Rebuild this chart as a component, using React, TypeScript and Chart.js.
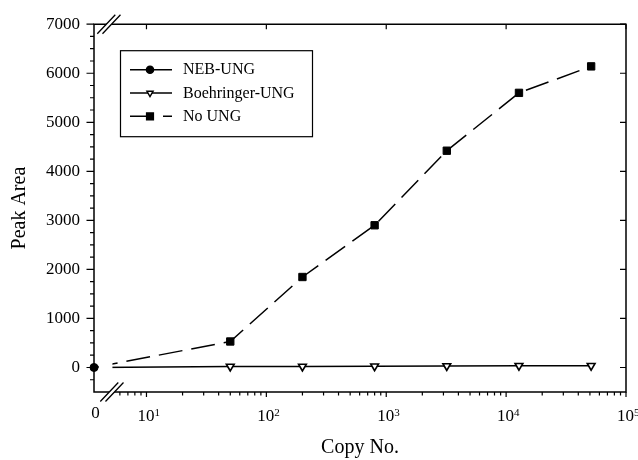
import React, { useEffect, useRef } from "react";
import { Chart, registerables } from "chart.js";
import { drawPoint } from "chart.js/helpers";

Chart.register(...registerables);

// ---- data ----
const COPY_NUMBERS = [0, 50, 200, 800, 3200, 12800, 51200];
const NEB_UNG = [0];
const BOEHRINGER_UNG = [0, 20, 20, 25, 30, 35, 35];
const NO_UNG = [0, 530, 1845, 2900, 4420, 5600, 6140];
const SERIES_LABELS = ["NEB-UNG", "Boehringer-UNG", "No UNG"];
const Y_TICKS = [0, 1000, 2000, 3000, 4000, 5000, 6000, 7000];
const X_DECADES = [1, 2, 3, 4, 5];
const X_TICK_BASE = "10";
const ZERO_LABEL = "0";
const X_TITLE = "Copy No.";
const Y_TITLE = "Peak Area";

// ---- axis definition (broken log axis: "0" sits at the axis minimum) ----
const X_MIN = 3.65;
const X_MAX = 100000;
const Y_MIN = -500;
const Y_MAX = 7000;
const Y_MINOR_STEP = 250;
const BREAK_AT = 5;
const BLANK_FROM = 4.0;
const BLANK_TO = 5.2;

const FONT = "'Liberation Serif', 'Times New Roman', serif";

const toX = (c: number) => (c === 0 ? X_MIN : c);
const pts = (vals: number[]) => vals.map((v, i) => ({ x: toX(COPY_NUMBERS[i]), y: v }));

const framePlugin = {
  id: "frame",
  afterDatasetsDraw(chart: any) {
    const { ctx, chartArea: a, scales } = chart;
    const xs = scales.x;
    const x0 = xs.getPixelForValue(BLANK_FROM);
    const x1 = xs.getPixelForValue(BLANK_TO);
    ctx.save();
    ctx.fillStyle = "#fff";
    ctx.fillRect(x0, a.top + 2, x1 - x0, a.bottom - a.top - 4);
    ctx.restore();
  },
  afterDraw(chart: any) {
    const { ctx, chartArea: a, scales } = chart;
    const xs = scales.x;
    const ys = scales.y;
    ctx.save();
    ctx.strokeStyle = "#000";
    ctx.fillStyle = "#000";
    ctx.lineCap = "butt";

    // frame
    ctx.lineWidth = 1.5;
    ctx.beginPath();
    ctx.moveTo(a.left, a.top);
    ctx.lineTo(a.right, a.top);
    ctx.lineTo(a.right, a.bottom);
    ctx.lineTo(a.left, a.bottom);
    ctx.closePath();
    ctx.stroke();

    // y ticks
    ctx.lineWidth = 1.2;
    ctx.beginPath();
    for (let v = Y_MIN + Y_MINOR_STEP; v <= Y_MAX; v += Y_MINOR_STEP) {
      const py = ys.getPixelForValue(v);
      const major = v % 1000 === 0;
      ctx.moveTo(a.left - (major ? 7.5 : 4), py);
      ctx.lineTo(a.left, py);
      if (major) {
        ctx.moveTo(a.right, py);
        ctx.lineTo(a.right - 6, py);
      }
    }
    // x ticks
    for (let d = 0; d <= 4; d++) {
      for (let k = 1; k <= 9; k++) {
        const v = k * Math.pow(10, d);
        if (v <= BLANK_TO || v > X_MAX) continue;
        const px = xs.getPixelForValue(v);
        const major = k === 1;
        ctx.moveTo(px, a.bottom);
        ctx.lineTo(px, a.bottom + (major ? 5 : 3.5));
      }
    }
    X_DECADES.forEach((e) => {
      const px = xs.getPixelForValue(Math.pow(10, e));
      ctx.moveTo(px, a.bottom);
      ctx.lineTo(px, a.bottom + 5);
      ctx.moveTo(px, a.top);
      ctx.lineTo(px, a.top + 5);
    });
    ctx.stroke();

    // axis breaks
    const bx = xs.getPixelForValue(BREAK_AT);
    const drawBreak = (cx: number, cy: number) => {
      const h = 9.5, w = 9, g = 2.6;
      ctx.fillStyle = "#fff";
      ctx.beginPath();
      ctx.moveTo(cx - g - w, cy + h);
      ctx.lineTo(cx - g + w, cy - h);
      ctx.lineTo(cx + g + w, cy - h);
      ctx.lineTo(cx + g - w, cy + h);
      ctx.closePath();
      ctx.fill();
      ctx.lineWidth = 1.3;
      ctx.beginPath();
      ctx.moveTo(cx - g - w, cy + h);
      ctx.lineTo(cx - g + w, cy - h);
      ctx.moveTo(cx + g - w, cy + h);
      ctx.lineTo(cx + g + w, cy - h);
      ctx.stroke();
      ctx.fillStyle = "#000";
    };
    drawBreak(bx - 1.5, a.top);
    drawBreak(bx + 1.5, a.bottom);

    // x tick labels
    ctx.fillStyle = "#000";
    ctx.textBaseline = "alphabetic";
    ctx.font = `17px ${FONT}`;
    ctx.textAlign = "center";
    ctx.fillText(ZERO_LABEL, xs.getPixelForValue(X_MIN) + 1.5, a.bottom + 26);
    X_DECADES.forEach((e) => {
      const px = xs.getPixelForValue(Math.pow(10, e));
      ctx.font = `17px ${FONT}`;
      ctx.textAlign = "left";
      const wb = ctx.measureText(X_TICK_BASE).width;
      ctx.fillText(X_TICK_BASE, px - wb / 2 - 0.5, a.bottom + 29);
      ctx.font = `11px ${FONT}`;
      ctx.fillText(String(e), px + wb / 2 - 0.5, a.bottom + 23.5);
    });

    // legend
    const lx = a.left + 26, ly = a.top + 26, lw = 192, lh = 86;
    ctx.lineWidth = 1.2;
    ctx.strokeStyle = "#000";
    ctx.strokeRect(lx + 0.5, ly + 0.5, lw, lh);
    const legendRadius = [3.6, 3.6, 4.8];
    chart.data.datasets.forEach((ds: any, i: number) => {
      const y = ly + 19.5 + i * 23.3;
      ctx.lineWidth = 1.5;
      ctx.strokeStyle = "#000";
      ctx.setLineDash(ds.borderDash || []);
      ctx.beginPath();
      ctx.moveTo(lx + 10, y);
      ctx.lineTo(lx + 52, y);
      ctx.stroke();
      ctx.setLineDash([]);
      ctx.fillStyle = ds.pointBackgroundColor;
      ctx.strokeStyle = "#000";
      ctx.lineWidth = 1.4;
      drawPoint(ctx, { pointStyle: ds.pointStyle, rotation: ds.pointRotation || 0, radius: legendRadius[i], borderWidth: 1.4 }, lx + 30, y);
      ctx.fillStyle = "#000";
      ctx.font = `16px ${FONT}`;
      ctx.textAlign = "left";
      ctx.textBaseline = "middle";
      ctx.fillText(ds.label, lx + 63, y + 0.5);
    });
    ctx.restore();
  },
};

export default function App() {
  const ref = useRef<HTMLCanvasElement>(null);
  useEffect(() => {
    const hideZero = (r: number) => (c: any) => (c.dataIndex === 0 ? 0 : r);
    const chart = new Chart(ref.current as HTMLCanvasElement, {
      type: "line",
      data: {
        datasets: [
          {
            label: SERIES_LABELS[0],
            data: pts(NEB_UNG),
            borderColor: "#000",
            borderWidth: 1.5,
            pointStyle: "circle",
            pointRadius: 4,
            pointBackgroundColor: "#000",
            pointBorderColor: "#000",
            pointBorderWidth: 1,
            clip: false,
          } as any,
          {
            label: SERIES_LABELS[1],
            data: pts(BOEHRINGER_UNG),
            borderColor: "#000",
            borderWidth: 1.5,
            pointStyle: "triangle",
            pointRotation: 180,
            pointRadius: hideZero(4.5),
            pointBackgroundColor: "#fff",
            pointBorderColor: "#000",
            pointBorderWidth: 1.6,
            clip: false,
          } as any,
          {
            label: SERIES_LABELS[2],
            data: pts(NO_UNG),
            borderColor: "#000",
            borderWidth: 1.5,
            borderDash: [24, 9],
            pointStyle: "rect",
            pointRadius: hideZero(5.2),
            pointBackgroundColor: "#000",
            pointBorderColor: "#000",
            pointBorderWidth: 1,
            clip: false,
          } as any,
        ],
      },
      options: {
        responsive: false,
        animation: false,
        events: [],
        layout: { padding: { left: 0, right: 12, top: 18, bottom: 0 } },
        elements: { line: { tension: 0 } },
        plugins: {
          legend: { display: false },
          tooltip: { enabled: false },
        },
        scales: {
          x: {
            type: "logarithmic",
            min: X_MIN,
            max: X_MAX,
            grid: { display: false, drawTicks: false },
            border: { display: false },
            ticks: { display: false },
            title: {
              display: true,
              text: X_TITLE,
              color: "#000",
              font: { family: FONT, size: 20 },
              padding: { top: 0, bottom: 0 },
            },
            afterFit: (s: any) => {
              s.height = 68;
            },
          },
          y: {
            type: "linear",
            min: Y_MIN,
            max: Y_MAX,
            grid: { display: false, drawTicks: false },
            border: { display: false },
            afterBuildTicks: (s: any) => {
              s.ticks = Y_TICKS.map((v) => ({ value: v }));
            },
            ticks: {
              color: "#000",
              font: { family: FONT, size: 17 },
              padding: 14,
              callback: (v: any) => String(v),
            },
            title: {
              display: true,
              text: Y_TITLE,
              color: "#000",
              font: { family: FONT, size: 20 },
              padding: { top: 8, bottom: 0 },
            },
            afterFit: (s: any) => {
              s.width = 94;
            },
          },
        },
      },
      plugins: [framePlugin],
    } as any);
    return () => chart.destroy();
  }, []);
  return (
    <div style={{ position: "fixed", left: 0, top: 0, width: 638, height: 460, background: "#fff" }}>
      <canvas ref={ref} width={638} height={460} />
    </div>
  );
}
